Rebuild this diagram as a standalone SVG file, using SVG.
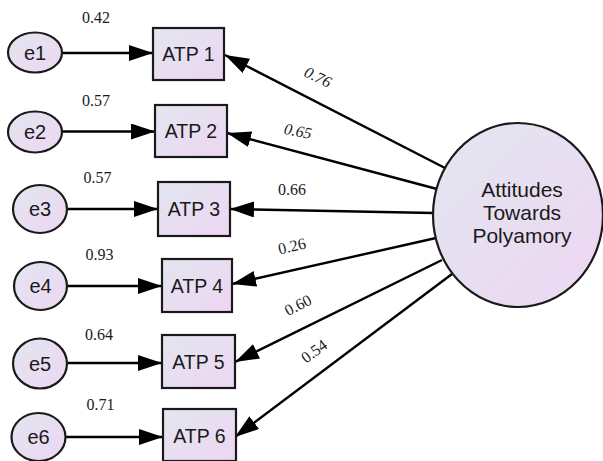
<svg xmlns="http://www.w3.org/2000/svg" width="603" height="461" viewBox="0 0 603 461">
<defs>
<linearGradient id="g" x1="0" y1="0" x2="1" y2="1">
<stop offset="0" stop-color="#e2e6f0"/>
<stop offset="1" stop-color="#eed6f2"/>
</linearGradient>
<marker id="ah" markerUnits="userSpaceOnUse" markerWidth="26" markerHeight="18" refX="24" refY="8" orient="auto">
<path d="M0,0 L24,8 L0,16 Z" fill="#000"/>
</marker>
<style>
.n{fill:url(#g);stroke:#1a1a1a;stroke-width:2.2}
.t{font-family:"Liberation Sans",Arial,sans-serif;fill:#1a1a1a;text-anchor:middle}
.bt{font-size:19.5px}
.et{font-size:20px}
.ct{font-size:21px}
.v{font-family:"Liberation Serif","Times New Roman",serif;font-size:16px;fill:#1a1a1a;text-anchor:middle}
.i{font-style:italic}
.c line{stroke:#000;stroke-width:2.4;marker-end:url(#ah)}
</style>
</defs>
<rect width="603" height="461" fill="#fff"/>
<g class="c" id="connectors">
<line x1="62" y1="53" x2="153" y2="53"/>
<line x1="62" y1="131.5" x2="155" y2="131.5"/>
<line x1="67" y1="209" x2="158" y2="209"/>
<line x1="67" y1="286" x2="162" y2="286"/>
<line x1="67" y1="363" x2="162" y2="363"/>
<line x1="65.5" y1="437" x2="163" y2="437"/>
<line x1="445" y1="168" x2="225" y2="55"/>
<line x1="437" y1="189" x2="227" y2="133"/>
<line x1="433" y1="213" x2="230" y2="209"/>
<line x1="436" y1="238" x2="232" y2="284"/>
<line x1="442" y1="260" x2="235" y2="362"/>
<line x1="452" y1="274" x2="235" y2="437"/>
</g>
<g id="connector-labels">
<text class="v" x="96" y="23">0.42</text>
<text class="v" x="96" y="106">0.57</text>
<text class="v" x="97.5" y="183">0.57</text>
<text class="v" x="99.5" y="260">0.93</text>
<text class="v" x="99" y="340">0.64</text>
<text class="v" x="100.5" y="410">0.71</text>
<text class="v i" x="318" y="82.5" transform="rotate(26 318 77)">0.76</text>
<text class="v i" x="298" y="136.5" transform="rotate(11 298 131)">0.65</text>
<text class="v" x="292" y="194.5">0.66</text>
<text class="v" x="292" y="251.5" transform="rotate(-13 292 246)">0.26</text>
<text class="v" x="298" y="310.5" transform="rotate(-27 298 305)">0.60</text>
<text class="v" x="314" y="356.5" transform="rotate(-36 314 351)">0.54</text>
</g>
<g id="e1"><ellipse class="n" cx="35" cy="52.5" rx="27" ry="20"/><text class="t et" x="35" y="59.5">e1</text></g>
<g id="e2"><ellipse class="n" cx="35" cy="132" rx="27" ry="20.5"/><text class="t et" x="35" y="139">e2</text></g>
<g id="e3"><ellipse class="n" cx="40" cy="209" rx="27" ry="24"/><text class="t et" x="40" y="216">e3</text></g>
<g id="e4"><ellipse class="n" cx="40.5" cy="286" rx="26.5" ry="24"/><text class="t et" x="40.5" y="293">e4</text></g>
<g id="e5"><ellipse class="n" cx="40" cy="363.5" rx="27" ry="25"/><text class="t et" x="40" y="370.5">e5</text></g>
<g id="e6"><ellipse class="n" cx="38.5" cy="437" rx="27" ry="24"/><text class="t et" x="38.5" y="444">e6</text></g>
<g id="atp1"><rect class="n" x="153" y="28" width="71" height="52"/><text class="t bt" x="188.5" y="61">ATP 1</text></g>
<g id="atp2"><rect class="n" x="155" y="105" width="72" height="52"/><text class="t bt" x="191" y="138">ATP 2</text></g>
<g id="atp3"><rect class="n" x="158" y="182" width="72" height="54"/><text class="t bt" x="194" y="216">ATP 3</text></g>
<g id="atp4"><rect class="n" x="162" y="259" width="70" height="53"/><text class="t bt" x="197" y="292.5">ATP 4</text></g>
<g id="atp5"><rect class="n" x="162" y="335" width="73" height="53"/><text class="t bt" x="198.5" y="369">ATP 5</text></g>
<g id="atp6"><rect class="n" x="163" y="409" width="73" height="52"/><text class="t bt" x="199.5" y="442.5">ATP 6</text></g>
<g id="atp-latent"><ellipse class="n" cx="518" cy="215" rx="85" ry="92"/>
<text class="t ct" x="522" y="197">Attitudes</text>
<text class="t ct" x="522" y="220">Towards</text>
<text class="t ct" x="522" y="243">Polyamory</text>
</g>
</svg>
